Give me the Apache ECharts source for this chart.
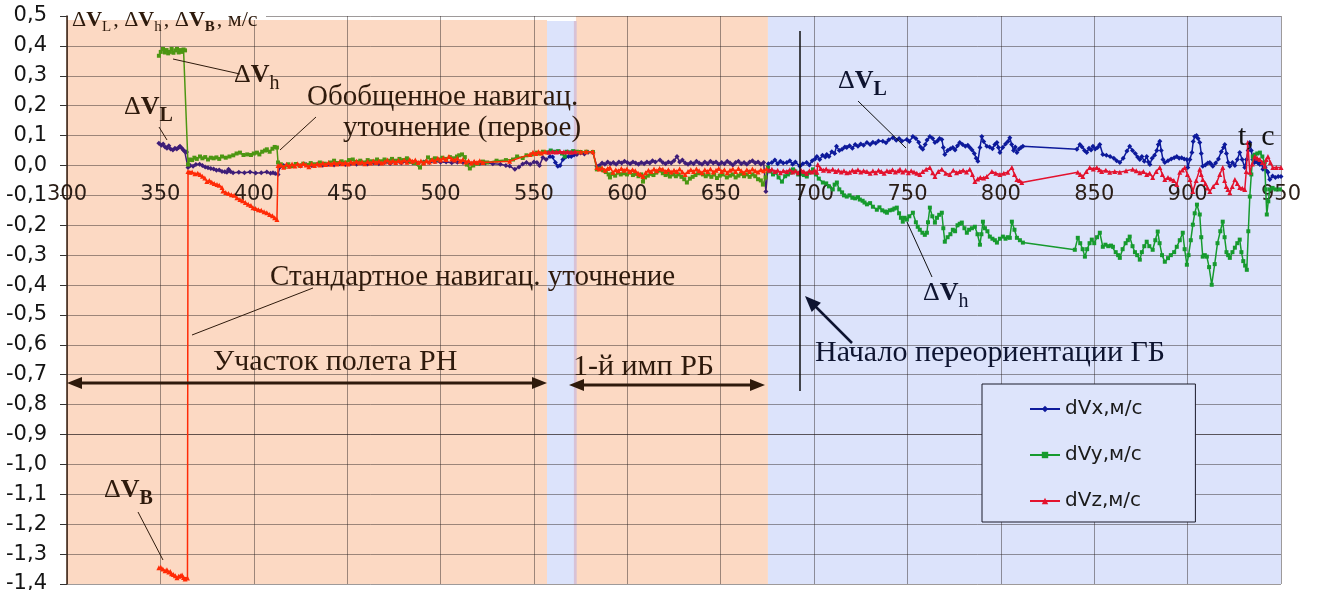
<!DOCTYPE html>
<html><head><meta charset="utf-8">
<script src="https://cdn.jsdelivr.net/npm/echarts@6.0.0/dist/echarts.min.js"></script>
<style>html,body{margin:0;padding:0;background:#fff;}#c{width:1320px;height:590px;}</style>
</head><body><div id="c"></div>
<script>
// ---------- DATA ----------
const seriesNames = ['dVx,м/с', 'dVy,м/с', 'dVz,м/с'];
const xTicks = { min: 300, max: 950, step: 50 };
const yTicks = { min: -1.4, max: 0.5, step: 0.1 };
// phases of flight (t, s): [start, end, kind]
const phases = [[300, 557, 'rn'], [557, 572.5, 'gap'], [572.5, 675.3, 'rb'], [675.3, 955, 'gb']];

const dVx = [
[349.2,0.074],[350.5,0.068],[351.5,0.072],[352.5,0.062],[353.5,0.058],[354.5,0.066],[355.5,0.055],[356.7,0.052],[357.8,0.058],[358.8,0.055],[359.8,0.060],[360.5,0.064],[361.5,0.058],[362.3,0.052],[363,0.047],[364,0.045],
[364.8,-0.007],[366,0.0],[367.5,-0.003],[369,0.003],[371,0.004],[372.5,0.0],[374,-0.005],[375.5,-0.008],[377,-0.01],[378.5,-0.012],[380,-0.016],[381.5,-0.015],[383,-0.02],[384.5,-0.021],[385.6,-0.023],[386.5,-0.013],[387.5,-0.02],[388.9,-0.024],[392,-0.023],[395,-0.024],[398,-0.022],[401,-0.025],[404,-0.024],[407,-0.022],[409,-0.026],[410.3,-0.024],[411.5,-0.027],[413,-0.03],
[414,-0.005],[416,0.0],[419,-0.003],[422,0.002],[425,-0.002],[428,0.003],[431,0.0],[434,0.004],[437,0.001],[440,0.004],[443,0.002],[446,0.006],[449,0.003],[452,0.007],[455,0.004],[458,0.008],[461,0.005],[464,0.009],[467,0.006],[470,0.01],[473,0.007],[476,0.011],[479,0.008],[482,0.012],[485,0.009],[488,0.008],[491,0.012],[494,0.01],[497,0.013],[500,0.011],[503,0.012],[506,0.009],[509,0.011],[512,0.01],[515,0.008],[518,0.01],[521,0.007],[524,0.008],[528,0.006],[532,0.004],[535,0.0],[537,-0.002],[539.8,-0.013],[542,-0.005],[544,0.005],[546,0.01],[548,0.004],[550,0.012],[551.6,0.01],[553,0.0],[554.8,0.027],[556.5,0.02],[558.6,0.03],[560,0.028],[561.5,0.01],[562.8,-0.003],[564,0.0],[565.5,0.02],[567,0.028],[568.5,0.03],[570,0.03],[571.5,0.035],[573,0.037],[575,0.042],[577,0.038],[579,0.044],[581.6,0.043],
[583.7,-0.003],[585,0.0],[586.5,0.008],[588,0.004],[589.5,0.012],[591,0.006],[592.5,0.01],[594,0.004],[595.5,0.012],[597,0.008],[598.5,0.014],[600,0.01],[601.5,0.006],[603,0.012],[604.5,0.008],[606,0.004],[607.5,0.01],[609,0.006],[610.5,0.012],[612,0.008],[613.5,0.016],[615,0.012],[617.5,0.018],[619,0.01],[620.5,0.006],[622,0.012],[623.5,0.008],[625,0.016],[626.6,0.03],[628,0.012],[629.5,0.018],[631,0.008],[632.5,0.004],[634,0.01],[635.5,0.006],[637,0.014],[638.5,0.008],[640,0.004],[641.5,0.012],[643,0.006],[644.5,0.014],[646,0.008],[647.5,0.012],[649,0.004],[650.5,0.01],[652,0.006],[653.5,0.014],[655,0.008],[656.5,0.002],[658,0.01],[659.5,0.014],[661,0.006],[662.5,0.01],[664,0.004],[665.5,0.012],[667,0.016],[668.5,0.008],[670,0.012],[671.5,0.004],[673,0.01],[674.2,-0.087],
[675.5,0.006],[677.4,0.01],[679,0.018],[680.5,0.006],[682,0.014],[683.5,0.008],[685.4,0.01],[687,0.016],[688.5,0.004],[690,0.012],[692.4,-0.003],[694,0.006],[696,0.01],[697.5,0.002],[699,0.016],[700.5,0.022],[701.5,0.03],[703,0.02],[704.5,0.034],[706,0.028],[706.8,0.037],[708,0.03],[709.5,0.046],[711,0.04],[712,0.064],[713.5,0.05],[715,0.054],[716.5,0.062],[717.5,0.06],[719,0.066],[720.5,0.058],[722,0.07],[723.5,0.064],[725,0.072],[726.5,0.068],[728.3,0.077],[730,0.07],[731.5,0.078],[733,0.074],[734.5,0.082],[736.8,0.081],[738.5,0.076],[740,0.086],[742.2,0.093],[744,0.084],[745.5,0.09],[747,0.082],[749.7,0.087],[751,0.08],[752.9,0.097],[754.5,0.09],[756,0.078],[757,0.062],[758.2,0.054],[759.5,0.07],[760.5,0.085],[762,0.097],[763.5,0.09],[764.7,0.077],[766,0.082],[767.2,0.09],[768.4,0.087],[769.2,0.06],[770,0.037],[771.5,0.05],[773,0.056],[774.3,0.06],[775.5,0.052],[776.8,0.066],[778,0.077],[779.5,0.07],[781,0.064],[782.3,0.068],[783.4,0.06],[784.6,0.052],[785.8,0.04],[786.8,0.024],[787.7,0.014],[788.8,0.06],[789.8,0.097],[790.8,0.08],[792.5,0.064],[794,0.062],[795.5,0.056],[796.8,0.07],[797.9,0.077],[798.7,0.06],[799.5,0.043],[801,0.06],[802.5,0.072],[803.8,0.08],[804.8,0.093],[805.8,0.07],[806.8,0.05],[807.7,0.062],[808.6,0.043],[809.8,0.055],[810.8,0.06],[811.8,0.064],
[840.7,0.054],[842.3,0.07],[843.5,0.062],[844.8,0.05],[846,0.043],[847.2,0.058],[848.3,0.052],[849.3,0.064],[850.5,0.055],[851.8,0.06],[853,0.07],[854.6,0.037],[856.5,0.034],[858.5,0.03],[860.5,0.024],[862,0.016],[863.7,0.01],[865.5,0.024],[867.5,0.048],[869,0.064],[870.5,0.05],[872,0.04],[873.2,0.028],[874.4,0.02],[875.5,0.03],[876.8,0.014],[878.1,0.03],[879,0.012],[879.8,0.003],[881,0.024],[882.3,0.034],[883.5,0.05],[884.3,0.07],[885.1,0.081],[885.9,0.05],[886.8,0.02],[887.8,0.01],[889.5,0.016],[891.2,0.022],[892.8,0.026],[894.2,0.03],[895.5,0.024],[896.8,0.026],[898.2,0.022],[899.6,0.02],[900.1,-0.007],[901.2,0.02],[902.3,0.043],[903,0.08],[903.8,0.097],[904.8,0.1],[905.6,0.09],[906.5,0.077],[907.3,0.04],[908.1,-0.003],[909.5,0.002],[910.8,0.008],[911.9,0.01],[912.7,0.004],[913.5,-0.003],[915,0.008],[916.5,0.022],[918,0.046],[919.2,0.06],[919.9,0.07],[920.8,0.04],[921.7,0.01],[922.6,-0.003],[924,0.01],[925.3,0.0],[926.6,0.02],[927.9,0.043],[929.2,0.02],[930.6,-0.007],[931.5,0.02],[932.4,0.05],[933.3,0.077],[934.1,0.05],[934.9,0.02],[935.8,0.01],[936.8,0.016],[937.7,0.008],[938.7,0.003],[939.5,0.01],[940.3,-0.013],[941.5,-0.006],[942.3,-0.018],[943,-0.023],[944,-0.047],[945.5,-0.035],[947,-0.04],[948.5,-0.037],[950,-0.037]
];

const dVy = [
[349.2,0.367],[350.2,0.38],[351.4,0.39],[352.4,0.378],[353.3,0.386],[354.2,0.375],[355.1,0.38],[356,0.39],[357,0.377],[358,0.385],[358.9,0.39],[359.8,0.378],[360.7,0.386],[361.6,0.38],[362.4,0.388],[363.2,0.385],[364.8,0.003],
[365.8,0.02],[367,0.018],[368.2,0.026],[369.5,0.022],[371.2,0.03],[372.5,0.024],[374,0.028],[375.5,0.02],[377,0.026],[378.5,0.024],[380,0.027],[381.5,0.022],[383,0.03],[385,0.026],[387,0.03],[389,0.034],[390.8,0.04],[392.6,0.043],[394.5,0.035],[396.5,0.037],[398.5,0.035],[400,0.04],[401.7,0.043],[403,0.037],[404.5,0.046],[406,0.05],[407,0.054],[408.5,0.046],[410,0.056],[411.2,0.062],[412.4,0.06],[413,0.01],
[414.5,0.004],[416.5,-0.005],[418.5,0.004],[420.5,-0.002],[422.5,0.005],[424.5,0.0],[426.5,0.006],[428.5,0.002],[430.5,0.008],[432.5,0.004],[435.4,0.01],[438,0.006],[440.8,0.01],[443,0.016],[445,0.008],[447,0.014],[449,0.01],[451,0.018],[453,0.02],[455,0.012],[457,0.016],[459,0.01],[461,0.018],[463,0.014],[466,0.02],[468,0.014],[470,0.02],[472,0.016],[474,0.022],[476,0.016],[478,0.022],[480,0.018],[482,0.024],[484,0.012],[486,0.008],[489,-0.007],[491,0.01],[493.3,0.027],[495,0.018],[497,0.024],[499,0.02],[501,0.026],[503,0.022],[505,0.028],[507,0.024],[508.8,0.03],[510,0.034],[511.5,0.037],[513,0.028],[514.1,0.003],[515.7,-0.01],[517.5,0.0],[520,0.006],[522.7,0.013],[525,0.01],[530,0.016],[535,0.018],[538.8,0.02],[541,0.03],[544,0.025],[546,0.034],[548.9,0.037],[551.6,0.043],[553,0.04],[554.8,0.046],[557,0.044],[559,0.05],[561,0.046],[563,0.048],[565,0.04],[566.5,0.03],[567.5,0.046],[569,0.044],[571,0.048],[573,0.046],[575,0.045],[578,0.046],[581.6,0.045],
[583.7,-0.013],[585.5,-0.01],[587,-0.016],[588.5,-0.022],[590,-0.03],[590.7,-0.04],[592,-0.028],[593.5,-0.034],[595,-0.024],[596.5,-0.03],[598,-0.026],[599.8,-0.03],[601.5,-0.024],[603,-0.032],[604.5,-0.028],[606,-0.036],[607.5,-0.03],[608.4,-0.054],[609.5,-0.04],[611,-0.034],[612.5,-0.028],[614,-0.032],[615.5,-0.024],[617.5,-0.017],[619,-0.026],[620.5,-0.032],[622,-0.028],[622.8,-0.037],[624.5,-0.03],[626,-0.036],[627.5,-0.03],[629,-0.038],[630.5,-0.046],[631.9,-0.057],[633.5,-0.044],[635,-0.038],[636.5,-0.032],[638,-0.026],[640.5,-0.03],[642,-0.036],[643.5,-0.03],[645,-0.038],[646.5,-0.03],[648,-0.042],[649.5,-0.034],[651,-0.03],[653.3,-0.04],[655,-0.034],[656.5,-0.03],[658,-0.04],[659.5,-0.034],[661,-0.028],[662.5,-0.036],[664,-0.03],[665.5,-0.038],[667,-0.03],[668.5,-0.036],[670,-0.046],[671.5,-0.05],[672.6,-0.064],[674,-0.04],[675.3,-0.007],
[676.5,-0.02],[678,-0.03],[679.5,-0.024],[681,-0.04],[682.8,-0.054],[684.5,-0.036],[686,-0.03],[687.5,-0.024],[688.7,-0.013],[690,-0.02],[691.5,-0.03],[693,-0.028],[694.5,-0.032],[696.1,-0.037],[697.5,-0.024],[699.4,-0.013],[701,-0.03],[702.5,-0.044],[704.7,-0.057],[706.5,-0.06],[708,-0.07],[710,-0.08],[711,-0.064],[712.2,-0.057],[713.5,-0.08],[715,-0.09],[716,-0.1],[717.5,-0.104],[719,-0.1],[720.5,-0.108],[722,-0.11],[723.5,-0.106],[724.5,-0.114],[726,-0.118],[727,-0.124],[728.3,-0.13],[730,-0.126],[731.5,-0.138],[733.6,-0.148],[735,-0.14],[736.5,-0.15],[738,-0.154],[739,-0.158],[740.5,-0.15],[742,-0.148],[743,-0.144],[744.3,-0.141],[745.5,-0.16],[746.5,-0.175],[747.5,-0.188],[748.5,-0.175],[749.7,-0.181],[751,-0.17],[752.9,-0.158],[754.5,-0.19],[755.5,-0.205],[756.6,-0.215],[758,-0.225],[759.3,-0.232],[760.4,-0.225],[761,-0.19],[762,-0.141],[763.3,-0.17],[764.7,-0.191],[765.8,-0.175],[767,-0.165],[768.4,-0.158],[769.2,-0.21],[770,-0.255],[771.5,-0.24],[773,-0.23],[774.3,-0.215],[775.5,-0.22],[776.8,-0.2],[778,-0.195],[779.1,-0.191],[780.5,-0.21],[781.8,-0.225],[783,-0.215],[784.5,-0.21],[786.1,-0.205],[787.5,-0.23],[788.8,-0.265],[789.6,-0.23],[790.4,-0.188],[791.5,-0.21],[792.8,-0.22],[794.1,-0.238],[795.5,-0.245],[796.8,-0.25],[797.9,-0.258],[799.5,-0.245],[801.1,-0.238],[802.5,-0.245],[803.7,-0.24],[804.8,-0.242],[805.9,-0.188],[807.3,-0.215],[808.6,-0.242],[810.2,-0.25],[811.8,-0.258],
[839.6,-0.282],[841.2,-0.242],[842.5,-0.26],[843.8,-0.28],[845,-0.305],[846.2,-0.28],[847.5,-0.26],[848.7,-0.248],[850,-0.26],[851.5,-0.24],[853,-0.225],[854.6,-0.272],[856,-0.265],[857.5,-0.27],[859,-0.268],[860,-0.272],[861.5,-0.29],[862.8,-0.3],[863.7,-0.309],[865.2,-0.28],[866.8,-0.26],[868,-0.25],[869,-0.238],[870.5,-0.27],[871.8,-0.29],[873,-0.3],[874.4,-0.315],[875.5,-0.29],[876.8,-0.27],[878.1,-0.255],[879.5,-0.27],[881.3,-0.282],[882.7,-0.25],[884,-0.221],[885,-0.26],[886.3,-0.3],[887.8,-0.322],[889.5,-0.31],[891,-0.3],[892.8,-0.29],[894.2,-0.272],[895.8,-0.25],[897.4,-0.225],[898.4,-0.28],[899.6,-0.332],[900.5,-0.3],[901.7,-0.25],[902.8,-0.198],[903.8,-0.16],[905,-0.131],[906.5,-0.164],[907.3,-0.24],[908.1,-0.305],[909.2,-0.3],[910.3,-0.305],[911.5,-0.34],[912.9,-0.399],[914.5,-0.33],[916,-0.26],[917.5,-0.22],[918.8,-0.188],[919.8,-0.24],[920.8,-0.29],[921.7,-0.3],[922.6,-0.309],[924,-0.29],[925.3,-0.275],[926.6,-0.26],[927.9,-0.248],[928.8,-0.29],[929.8,-0.32],[930.8,-0.335],[931.7,-0.349],[932.5,-0.22],[933.3,-0.104],[934.1,-0.03],[934.9,0.03],[936,0.036],[937.3,0.04],[938.7,0.043],[940,0.03],[941.3,0.01],[941.8,-0.08],[942.4,-0.164],[943.2,-0.12],[944,-0.08],[945.5,-0.075],[947,-0.08],[949.4,-0.08]
];

const dVz = [
[349.2,-1.346],[350.2,-1.344],[351.3,-1.35],[352.5,-1.356],[353.5,-1.352],[354.5,-1.36],[355.3,-1.358],[356,-1.366],[357,-1.368],[358,-1.372],[358.9,-1.379],[359.8,-1.374],[360.7,-1.372],[361.6,-1.37],[362.4,-1.378],[363.2,-1.383],[364.5,-1.38],
[364.8,-0.02],[365.8,-0.023],[367,-0.022],[368.5,-0.028],[370,-0.026],[371.2,-0.03],[372.5,-0.036],[373.8,-0.042],[374.9,-0.054],[376.2,-0.05],[377.5,-0.056],[378.8,-0.06],[380.3,-0.064],[381.5,-0.066],[383,-0.074],[383.5,-0.085],[385,-0.09],[386.5,-0.094],[388,-0.098],[389.5,-0.1],[391,-0.108],[392.6,-0.114],[394,-0.118],[395.5,-0.124],[397,-0.13],[398.5,-0.134],[399.6,-0.141],[401,-0.144],[402.5,-0.148],[404,-0.15],[405.5,-0.155],[407,-0.158],[408.5,-0.164],[410,-0.168],[411.2,-0.175],[412.4,-0.181],
[413,0.0],[414.5,0.002],[416,-0.006],[417.5,0.004],[419,-0.003],[420.5,0.005],[422,-0.002],[423.5,0.006],[425,0.0],[426.5,0.007],[428,0.002],[429.5,-0.004],[431,0.005],[432.5,0.0],[434,0.006],[435.5,0.002],[437,0.008],[438.5,0.003],[440,0.009],[441.5,0.004],[443,0.01],[444.5,0.005],[446,0.012],[447.5,0.006],[449,0.01],[450.5,0.005],[452,0.012],[453.5,0.008],[455,0.014],[456.5,0.009],[458,0.012],[459.5,0.006],[461,0.013],[462.5,0.008],[464,0.015],[465.5,0.01],[467,0.014],[468.5,0.008],[470,0.012],[471.5,0.018],[473,0.011],[474.5,0.016],[476,0.01],[477.5,0.017],[479,0.012],[480.5,0.018],[482,0.011],[483.5,0.02],[485,0.014],[486.5,0.018],[488,0.01],[489.5,0.015],[491,0.008],[492.5,0.016],[494,0.012],[495.5,0.02],[497,0.014],[498.5,0.024],[500,0.018],[501.5,0.025],[503,0.02],[504.5,0.03],[506,0.022],[507.5,0.018],[509,0.024],[510.5,0.015],[512,0.02],[513.5,0.012],[515,0.016],[516.5,0.008],[518,0.014],[519.5,0.01],[521,0.016],[522.7,0.01],[537,0.014],[547.9,0.037],[549.5,0.044],[551,0.04],[552.5,0.046],[554,0.042],[556,0.046],[558,0.044],[560,0.046],[562,0.045],[564,0.047],[566,0.045],[568,0.046],[570,0.044],[572,0.046],[575,0.045],[578,0.046],[581.6,0.046],
[583.7,-0.007],[585,-0.012],[586.5,-0.008],[588,-0.016],[589.5,-0.01],[590.7,-0.007],[592.3,-0.023],[593.8,-0.014],[595.3,-0.018],[596.8,-0.01],[598.3,-0.016],[599.8,-0.012],[601.3,-0.02],[602.8,-0.014],[604.3,-0.018],[605.8,-0.026],[607,-0.03],[608.4,-0.037],[609.8,-0.024],[611.3,-0.016],[612.8,-0.02],[614.3,-0.012],[615.8,-0.018],[617.3,-0.01],[619,-0.013],[620.5,-0.02],[622,-0.014],[623.5,-0.022],[625,-0.016],[626.5,-0.02],[628,-0.012],[629.5,-0.022],[631,-0.03],[632.5,-0.02],[634,-0.014],[635.5,-0.02],[637,-0.012],[638.5,-0.018],[640,-0.024],[641.5,-0.014],[643,-0.02],[644.5,-0.012],[646,-0.022],[647.5,-0.016],[649,-0.01],[650.5,-0.02],[652,-0.014],[653.5,-0.024],[655,-0.016],[656.5,-0.012],[658,-0.02],[659.5,-0.01],[661,-0.018],[662.5,-0.024],[664,-0.014],[665.5,-0.02],[667,-0.012],[668.5,-0.018],[670,-0.022],[671.5,-0.014],[673,-0.018],[674.5,-0.012],[676,-0.016],
[677.4,-0.013],[679,-0.02],[680.5,-0.016],[682,-0.024],[683.5,-0.018],[685.4,-0.02],[687,-0.014],[688.5,-0.022],[690,-0.018],[691.5,-0.024],[693,-0.016],[694.5,-0.02],[696,-0.026],[697.5,-0.018],[699,-0.022],[700.3,-0.016],[701.5,-0.023],[702,0.003],[703.5,-0.01],[705,-0.016],[706.5,-0.012],[708,-0.018],[710,-0.013],[711.5,-0.02],[713,-0.016],[714.5,-0.022],[716,-0.018],[717.5,-0.024],[719,-0.023],[720.5,-0.016],[722,-0.02],[723.5,-0.014],[725,-0.022],[726.5,-0.018],[728.3,-0.02],[730,-0.026],[731.5,-0.018],[733,-0.024],[734.5,-0.016],[736,-0.02],[737.5,-0.026],[739,-0.018],[740.6,-0.02],[742,-0.014],[743.5,-0.022],[745,-0.018],[746,-0.013],[747.5,-0.022],[749,-0.016],[750.5,-0.024],[752,-0.018],[753.5,-0.022],[755,-0.026],[756.6,-0.03],[758.2,-0.02],[760,-0.013],[762,-0.007],[763.5,-0.024],[764.7,-0.037],[766.5,-0.02],[768.4,-0.013],[770.5,-0.026],[772.7,-0.03],[774.5,-0.016],[776.3,-0.024],[778,-0.02],[779.8,-0.016],[781.6,-0.022],[783.4,-0.013],[784.8,-0.03],[786.1,-0.054],[787.6,-0.045],[789,-0.04],[790.8,-0.042],[792.5,-0.037],[795.2,-0.02],[797.3,-0.026],[799.5,-0.03],[801.6,-0.026],[803.7,-0.023],[805.9,-0.007],[807.3,-0.03],[808.6,-0.047],[810,-0.05],[811.2,-0.057],
[841.2,-0.023],[842.5,-0.03],[843.9,-0.037],[845.8,-0.02],[847.6,-0.007],[849.5,-0.012],[851.4,-0.007],[852.8,-0.014],[854,-0.02],[856.2,-0.016],[858.3,-0.023],[861,-0.02],[863.7,-0.023],[867,-0.018],[870.6,-0.013],[872.5,-0.018],[874.4,-0.024],[876.3,-0.02],[878.1,-0.03],[879.7,-0.026],[881.3,-0.04],[883.2,-0.02],[885.1,-0.007],[886.5,-0.03],[887.8,-0.047],[889.5,-0.04],[891,-0.045],[892.6,-0.05],[894.2,-0.064],[895.8,-0.023],[897.2,-0.015],[898.5,-0.007],[899.9,-0.03],[901.2,-0.047],[902.8,-0.087],[904.6,-0.05],[906.5,-0.013],[907.3,-0.03],[908.1,-0.047],[909.5,-0.06],[910.7,-0.075],[911.9,-0.087],[913.7,-0.07],[915.6,-0.057],[917.2,-0.03],[918.8,-0.007],[919.8,-0.05],[920.7,-0.07],[921.6,-0.08],[922.6,-0.091],[923.9,-0.07],[925.3,-0.047],[926.6,-0.06],[927.9,-0.074],[929.3,-0.076],[930.6,-0.08],[931.4,-0.02],[932.2,0.077],[933.3,-0.023],[934.6,0.005],[936,0.03],[937.3,0.024],[938.7,0.02],[940,0.01],[941.3,-0.003],[942.1,0.02],[943,0.03],[944.3,0.01],[945.6,-0.007],[947.5,-0.007],[950,-0.007]
];

// ---------- STYLE ----------
const BG = { rn: '#fcd9c3', gap: '#dce3fb', rb: '#fcd9c3', gb: '#dce3fb' };
const COL = {
  x: { warm: '#3e1d78', cool: '#0d1a9b' },
  y: { warm: '#4c9612', cool: '#169a2e' },
  z: { warm: '#ff2a06', cool: '#e3122e' }
};
const BROWN = '#2e1a0c', NAVY = '#0e1430';

const chart = echarts.init(document.getElementById('c'), null, { renderer: 'canvas' });

function pieces(c) {
  return phases.map(p => ({ gte: p[0], lt: p[1], color: (p[2] === 'rn' || p[2] === 'rb') ? c.warm : c.cool }));
}

const bandData = phases.map(p => {
  const top = p[2] === 'rn' ? 0.487 : p[2] === 'gap' ? 0.483 : p[2] === 'rb' ? 0.5 : 0.51;
  return [{ xAxis: p[0], yAxis: top, itemStyle: { color: BG[p[2]] } }, { xAxis: p[1], yAxis: yTicks.min }];
});
// thin mauve seam at the right edge of the short blue gap
bandData.push([{ xAxis: 571.4, yAxis: 0.483, itemStyle: { color: '#d8c2d6' } }, { xAxis: 572.9, yAxis: yTicks.min }]);

// ----- annotation helpers -----
const mctx = document.createElement('canvas').getContext('2d');
const SERIF = '"Liberation Serif", "Times New Roman", serif';
function runs(x, baseline, list, color) {
  const out = [];
  let cx = x;
  list.forEach(r => {
    const w = r.b ? 'bold' : 'normal';
    mctx.font = w + ' ' + r.s + 'px ' + SERIF;
    out.push({
      type: 'text', x: cx, y: baseline + (r.dy || 0) - 0.34 * r.s, z: 20,
      style: { text: r.t, fontSize: r.s, fontWeight: w, fontFamily: SERIF, fill: color, align: 'left', verticalAlign: 'middle' }
    });
    cx += mctx.measureText(r.t).width + (r.gap || 0);
  });
  return out;
}
function dv(x, baseline, sub, subBold, color, S) {
  S = S || 26;
  return runs(x, baseline, [{ t: 'Δ', s: S }, { t: 'V', s: S, b: true }, { t: sub, s: Math.round(S * 0.75), b: subBold, dy: 7 }], color);
}
function line(x1, y1, x2, y2, color, w) {
  return { type: 'line', z: 20, shape: { x1, y1, x2, y2 }, style: { stroke: color, lineWidth: w || 1 } };
}
function head(tx, ty, fx, fy, len, half, color) {
  const dx = tx - fx, dy = ty - fy, L = Math.hypot(dx, dy), ux = dx / L, uy = dy / L;
  const bx = tx - ux * len, by = ty - uy * len;
  return { type: 'polygon', z: 21, shape: { points: [[tx, ty], [bx - uy * half, by + ux * half], [bx + uy * half, by - ux * half]] }, style: { fill: color } };
}
function dblArrow(x1, x2, y, color) {
  return [line(x1 + 8, y, x2 - 8, y, color, 3), head(x1, y, x2, y, 15, 6, color), head(x2, y, x1, y, 15, 6, color)];
}

let gfx = [];
// title with white backing over the top grid line
gfx.push({ type: 'rect', z: 15, shape: { x: 68, y: 9, width: 198, height: 11 }, style: { fill: '#fff' } });
gfx = gfx.concat(runs(72, 28, [
  { t: 'Δ', s: 22 }, { t: 'V', s: 22, b: true }, { t: 'L', s: 15, dy: 4, gap: 2 }, { t: ', ', s: 22 },
  { t: 'Δ', s: 22 }, { t: 'V', s: 22, b: true }, { t: 'h', s: 15, dy: 4, gap: 2 }, { t: ', ', s: 22 },
  { t: 'Δ', s: 22 }, { t: 'V', s: 22, b: true }, { t: 'B', s: 15, b: true, dy: 4, gap: 2 }, { t: ', м/с', s: 22 }
], BROWN));
// left-side labels
gfx = gfx.concat(dv(234, 84, 'h', false, BROWN));
gfx.push(line(173, 59, 240, 74, BROWN));
gfx = gfx.concat(dv(124, 116, 'L', true, BROWN));
gfx.push(line(159, 127, 167, 140, BROWN));
gfx = gfx.concat(dv(104, 499, 'B', true, BROWN));
gfx.push(line(138, 512, 163, 560, BROWN));
gfx = gfx.concat(runs(307, 107, [{ t: 'Обобщенное навигац.', s: 29 }], BROWN));
gfx = gfx.concat(runs(343, 138, [{ t: 'уточнение (первое)', s: 29 }], BROWN));
gfx.push(line(280, 150, 316, 117, BROWN));
gfx = gfx.concat(runs(270, 287, [{ t: 'Стандартное навигац. уточнение', s: 29 }], BROWN));
gfx.push(line(192, 335, 313, 288, BROWN));
gfx = gfx.concat(runs(213, 372, [{ t: 'Участок полета РН', s: 30 }], BROWN));
gfx = gfx.concat(dblArrow(67, 547, 383, BROWN));
gfx = gfx.concat(runs(573, 377, [{ t: '1-й имп РБ', s: 30 }], BROWN));
gfx = gfx.concat(dblArrow(569, 765, 385, BROWN));
// right side
gfx.push(line(800, 31, 800, 391, '#111', 1.5));
gfx = gfx.concat(runs(815, 363, [{ t: 'Начало переориентации ГБ', s: 30 }], NAVY));
gfx.push(line(852, 343, 812, 303, NAVY, 2.5));
gfx.push(head(805, 296, 852, 343, 16, 6.5, NAVY));
gfx = gfx.concat(dv(838, 90, 'L', true, NAVY));
gfx.push(line(858, 101, 906, 148, '#111'));
gfx = gfx.concat(dv(923, 302, 'h', false, NAVY));
gfx.push(line(907, 222, 932, 277, '#111'));
gfx = gfx.concat(runs(1238, 147, [{ t: 't, с', s: 30 }], '#111'));

const AXFONT = '"DejaVu Sans", sans-serif';
const GRIDLINE = 'rgba(40,30,30,0.45)';
const option = {
  animation: false,
  backgroundColor: '#fff',
  grid: { left: 67, right: 39, top: 16, bottom: 6, containLabel: false, outerBoundsMode: 'none' },
  xAxis: {
    type: 'value', min: xTicks.min, max: xTicks.max, interval: xTicks.step, z: 1.5,
    axisLine: { show: true, onZero: true, lineStyle: { color: 'rgba(40,30,30,0.5)', width: 1 } },
    axisTick: { show: false },
    axisLabel: { margin: 19, fontSize: 21, fontFamily: AXFONT, color: '#2a1d16', formatter: v => String(v) },
    splitLine: { show: true, lineStyle: { color: GRIDLINE, width: 1 } }
  },
  yAxis: {
    type: 'value', min: yTicks.min, max: yTicks.max, interval: yTicks.step, z: 1.5,
    axisLine: { show: true, onZero: false, lineStyle: { color: '#3a2010', width: 1.5 } },
    axisTick: { show: true, length: 7, lineStyle: { color: '#333' } },
    axisLabel: { margin: 20, fontSize: 21, fontFamily: AXFONT, color: '#141414', formatter: v => v.toFixed(1).replace('.', ',') },
    splitLine: { show: true, lineStyle: { color: GRIDLINE, width: 1 } }
  },
  legend: {
    data: seriesNames, orient: 'vertical', left: 982, top: 384,
    padding: [15, 53, 11, 47], itemGap: 26, itemWidth: 30, itemHeight: 8,
    backgroundColor: '#dde4fb', borderColor: '#1a1a2a', borderWidth: 1, borderRadius: 0,
    textStyle: { fontSize: 20, fontFamily: AXFONT, color: '#1a1a1a' }
  },
  visualMap: [
    { type: 'piecewise', show: false, dimension: 0, seriesIndex: 1, pieces: pieces(COL.x) },
    { type: 'piecewise', show: false, dimension: 0, seriesIndex: 2, pieces: pieces(COL.y) },
    { type: 'piecewise', show: false, dimension: 0, seriesIndex: 3, pieces: pieces(COL.z) }
  ],
  series: [
    { name: 'bg', type: 'line', data: [], z: 0, silent: true, clip: false,
      markArea: { silent: true, z: 0, data: bandData } },
    { name: seriesNames[0], type: 'line', data: dVx, color: COL.x.cool, symbol: 'diamond', symbolSize: 5,
      showSymbol: true, lineStyle: { width: 1.5 }, z: 3 },
    { name: seriesNames[1], type: 'line', data: dVy, color: COL.y.cool, symbol: 'rect', symbolSize: 4,
      showSymbol: true, lineStyle: { width: 1.5 }, z: 4 },
    { name: seriesNames[2], type: 'line', data: dVz, color: COL.z.cool, symbol: 'triangle', symbolSize: 5,
      showSymbol: true, lineStyle: { width: 1.5 }, z: 5 }
  ],
  graphic: { elements: gfx }
};
chart.setOption(option);
// put the time axis on the zero line of the velocity scale (offset derived from the y scale)
const yZero = chart.convertToPixel({ yAxisIndex: 0 }, 0);
const yBottom = chart.convertToPixel({ yAxisIndex: 0 }, yTicks.min);
chart.setOption({ xAxis: { offset: yZero - yBottom } });
</script></body></html>
